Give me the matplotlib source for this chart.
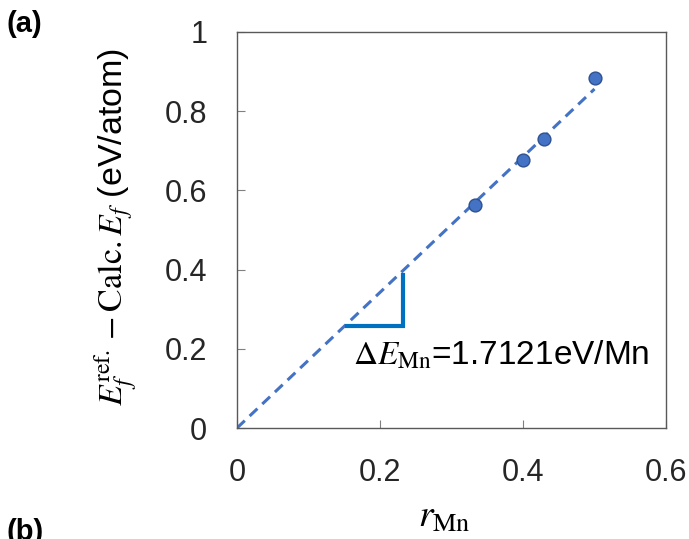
import matplotlib
matplotlib.use("Agg")
import matplotlib.pyplot as plt
import numpy as np

plt.rcParams['font.family'] = ['Liberation Sans', 'DejaVu Sans']
plt.rcParams['mathtext.fontset'] = 'stix'

# data
r_mn = [0.333, 0.400, 0.429, 0.500]
delta_e = [0.562, 0.676, 0.731, 0.883]
slope = 1.7121
fit_x = [0.0, 0.5]
tri_x = [0.154, 0.232]
tri_y = [0.258, 0.386]
x_ticks = [0, 0.2, 0.4, 0.6]
y_ticks = [0, 0.2, 0.4, 0.6, 0.8, 1]

fig = plt.figure(figsize=(6.89, 5.39), dpi=100)
W, H = 689, 539
ax = fig.add_axes([237 / W, 1 - 428 / H, (666 - 237) / W, (428 - 32) / H])

fx = np.array(fit_x)
ax.plot(fx, slope * fx, linestyle=(0, (3.5, 2.2)), color='#4472C4', lw=2.2, zorder=2)
ax.scatter(r_mn, delta_e, s=85, color='#4472C4', edgecolor='#2F528F', linewidth=1, zorder=3)
ax.plot([tri_x[0], tri_x[1], tri_x[1]], [tri_y[0], tri_y[0], tri_y[1]],
        color='#0070C0', lw=3, solid_joinstyle='miter', zorder=2)
ax.text(0.162, 0.184, r'$\Delta E_{\rm Mn}$=1.7121eV/Mn', fontsize=24, va='center', ha='left')

ax.set_xlim(0, 0.6)
ax.set_ylim(0, 1)
ax.set_xticks(x_ticks)
ax.set_xticklabels(['0', '0.2', '0.4', '0.6'])
ax.set_yticks(y_ticks)
ax.set_yticklabels(['0', '0.2', '0.4', '0.6', '0.8', '1'])
ax.tick_params(direction='in', length=6, width=0.8, color='#808080', labelsize=22, pad=21.5,
               labelcolor='#262626')
for s in ax.spines.values():
    s.set_color('#595959')
    s.set_linewidth(1.0)

ax.set_xlabel(r'$r_{\rm Mn}$', fontsize=27)
ax.xaxis.set_label_coords((444 - 237) / 429, (428 - 517) / 396)
ax.xaxis.label.set_va('center')
ax.set_ylabel(r'$E_f^{\rm ref.} - {\rm Calc.}E_f$ (eV/atom)', fontsize=24.5)
ax.yaxis.set_label_coords((116 - 237) / 429, (428 - 226.5) / 396)
ax.yaxis.label.set_va('center')

fig.text(7 / W, 1 - 10 / H, '(a)', fontsize=21, fontweight='bold', va='top', ha='left')
fig.text(7 / W, 1 - 518 / H, '(b)', fontsize=21, fontweight='bold', va='top', ha='left')

fig.savefig('out.png', dpi=100)
